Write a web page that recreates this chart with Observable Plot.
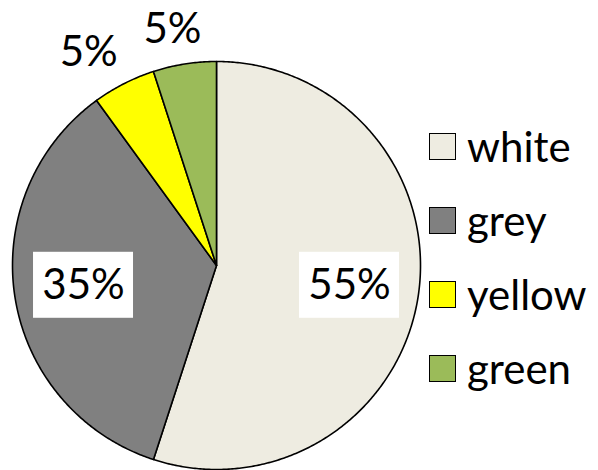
<!DOCTYPE html>
<html>
<head>
<meta charset="utf-8">
<script src="https://cdn.jsdelivr.net/npm/d3@7"></script>
<script src="https://cdn.jsdelivr.net/npm/@observablehq/plot@0.6"></script>
<style>
  html, body { margin: 0; padding: 0; background: #fff; }
  #wrap { position: relative; width: 598px; height: 470px; font-family: Lato, "Open Sans", sans-serif; }
  #chart { position: absolute; left: 0; top: 0; }
  #legend { position: absolute; left: 429px; top: 109px; }
  .item { display: flex; align-items: center; height: 74px; font-size: 42px; color: #000; }
  .sw { width: 25px; height: 25px; border: 1.5px solid #000; margin-right: 11px; box-sizing: content-box; }
</style>
</head>
<body>
<div id="wrap"><div id="chart"></div><div id="legend"></div></div>
<script>
const categories = ["white", "grey", "yellow", "green"];
const values = [55, 35, 5, 5];
const labels = ["55%", "35%", "5%", "5%"];
const colors = ["#EEECE1", "#808080", "#FFFF00", "#9BBB59"];

const total = d3.sum(values);
const slices = [];
const polys = [];
let acc = 0;
values.forEach((v, i) => {
  const a0 = acc / total * 2 * Math.PI;
  acc += v;
  const a1 = acc / total * 2 * Math.PI;
  const pts = [{cat: categories[i], x: 0, y: 0}];
  const n = Math.max(4, Math.ceil((a1 - a0) / (Math.PI / 360)));
  for (let k = 0; k <= n; k++) {
    const a = a0 + (a1 - a0) * k / n;
    pts.push({cat: categories[i], x: Math.sin(a), y: Math.cos(a)});
  }
  pts.push({cat: categories[i], x: 0, y: 0});
  polys.push(...pts);
  const mid = (a0 + a1) / 2;
  const outside = v / total < 0.1;
  const rx = outside ? 1.38 : 0.66;
  const ry = outside ? 1.17 : 0.62;
  slices.push({cat: categories[i], label: labels[i], outside, x: rx * Math.sin(mid), y: ry * Math.cos(mid)});
});

const inside = slices.filter(d => !d.outside);
const outsideL = slices.filter(d => d.outside);

const chart = Plot.plot({
  width: 430,
  height: 470,
  margin: 0,
  x: {domain: [-1, 1], range: [12, 420], axis: null},
  y: {domain: [-1, 1], range: [469, 61], axis: null},
  color: {domain: categories, range: colors},
  style: {fontFamily: "Lato, 'Open Sans', sans-serif", background: "transparent"},
  marks: [
    Plot.line(polys, {x: "x", y: "y", z: "cat", fill: {value: "cat", scale: "color"}, stroke: "#000", strokeWidth: 1.6, strokeLinejoin: "round", curve: "linear"}),
    Plot.rect(inside, {x1: "x", x2: "x", y1: "y", y2: "y", fill: "#fff", insetLeft: -50, insetRight: -50, insetTop: -33, insetBottom: -33}),
    Plot.text(inside, {x: "x", y: "y", text: "label", fontSize: 42, fill: "#000"}),
    Plot.text(outsideL, {x: "x", y: "y", text: "label", fontSize: 42, fill: "#000"})
  ]
});
document.getElementById("chart").appendChild(chart);

const legend = d3.select("#legend");
categories.forEach((c, i) => {
  const it = legend.append("div").attr("class", "item");
  it.append("div").attr("class", "sw").style("background", colors[i]);
  it.append("span").text(c);
});
</script>
</body>
</html>
